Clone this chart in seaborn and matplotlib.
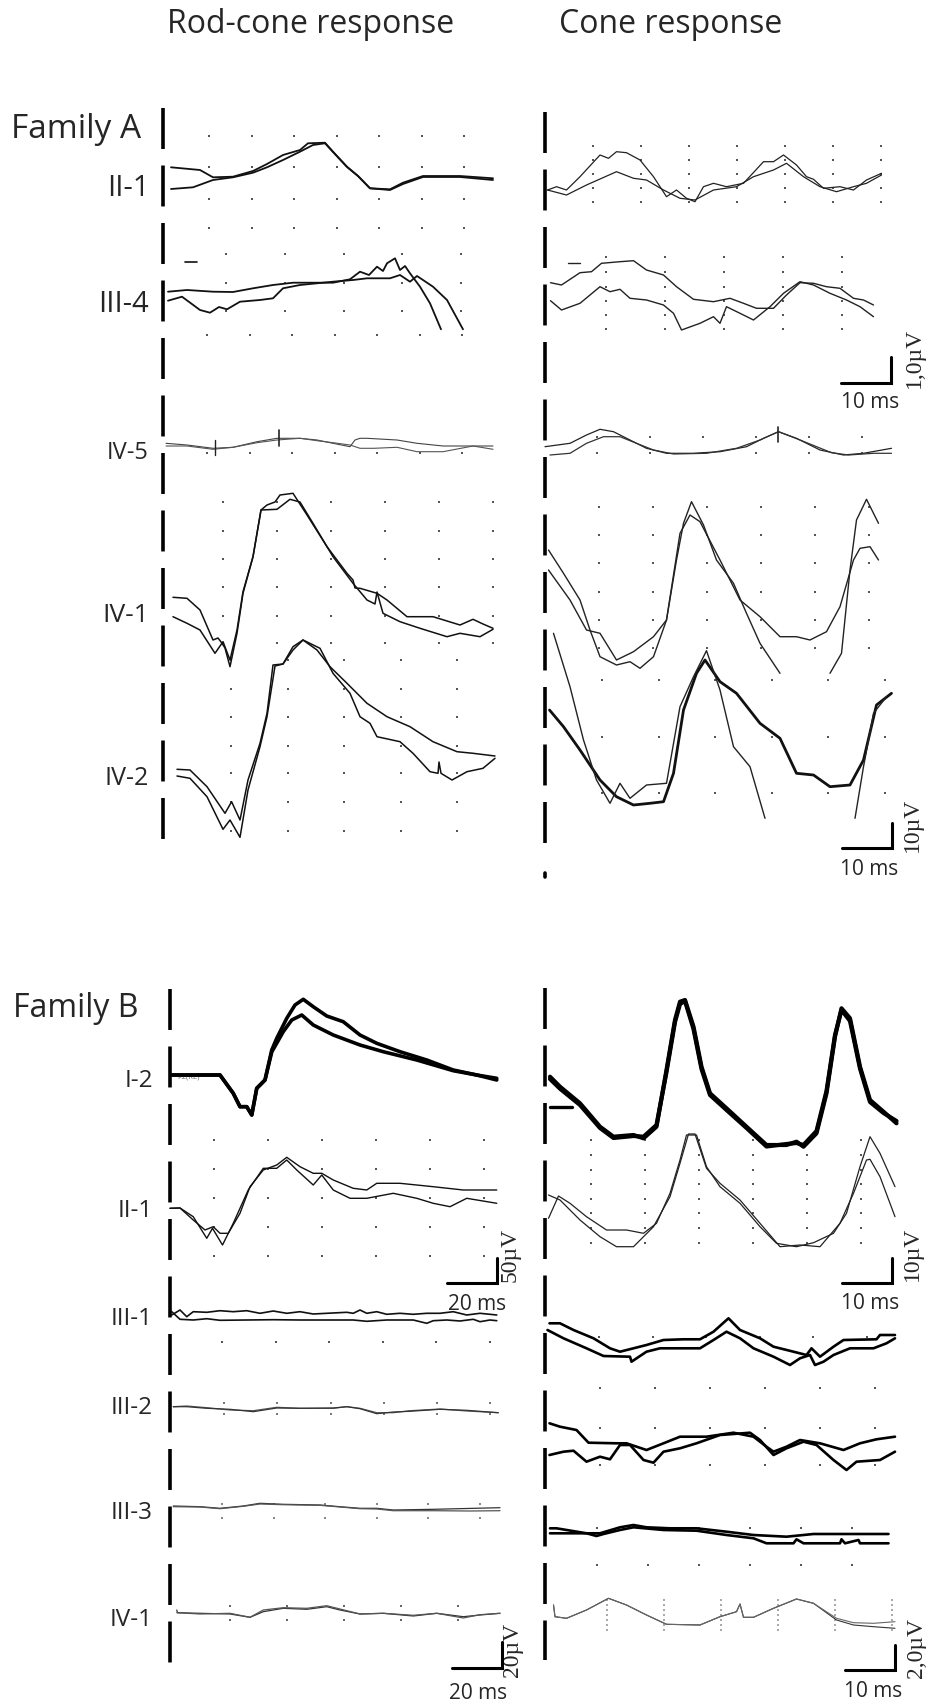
import numpy as np
import matplotlib
matplotlib.use("Agg")
import matplotlib.pyplot as plt
import seaborn as sns

sns.set_theme(style="white")
plt.rcParams['font.family'] = ['Open Sans', 'DejaVu Sans']
plt.rcParams['lines.scale_dashes'] = False

# ---------------- data: (time ms, amplitude units above row baseline) ----------------
# Family A, rod-cone response
ar_II1_a = [(4, 17.7), (18.5, 15), (25, 7.7), (35, 8.3), (45, 14), (52, 21), (60, 30), (68.5, 35), (72.5, 41.7),
            (81, 42.3), (85, 33.3), (92, 18.3), (97.5, 9), (103.5, -3.3), (113.5, -4.3), (120, 2.3), (130, 9),
            (148.5, 9), (165, 6.7)]
ar_II1_b = [(4, -4), (15, -2.3), (25, 5), (35, 7.7), (45, 12.3), (52, 17.7), (60, 25), (68.5, 33.3), (75, 40),
            (81, 41.7), (85, 33), (92, 18), (97.5, 9), (103.5, -3.3), (113.5, -5), (120, 1), (130, 8), (148.5, 8),
            (165, 5)]
ar_III4_a = [(2.5, 10.3), (12, 12), (25, 10.3), (35, 10), (45, 13.7), (55, 17), (65, 19.3), (77, 19.3), (85, 19.3),
             (93.5, 22.7), (98.5, 30.3), (103, 27), (107, 35.3), (110, 31), (112, 38.7), (116, 43.7), (118.5, 32),
             (121, 36), (123.5, 28.7), (128.5, 15.3), (133.5, -1.3), (139, -27.3)]
ar_III4_b = [(2.5, 1.3), (9.5, 5.3), (18.5, -8), (23.5, -10.7), (28, -5), (32, -7.3), (38.5, 0.3), (48.5, 2),
             (55, 3.7), (60, 13.7), (68.5, 17), (85, 20.3), (95, 22), (102, 23.7), (113.5, 23.7), (118.5, 27),
             (123.5, 20.3), (127, 26), (130, 22), (135, 15.3), (142, 2), (150, -27.3)]
ar_IV5_a = [(1.5, 6.7), (12, 5), (25, 1.7), (35, 2.7), (47, 8.3), (57, 11.7), (68.5, 11.7), (77, 10), (85, 6.7),
            (93.5, 3.3), (96, 10), (98.5, 11.7), (102, 11.7), (117, 10), (127, 6.7), (140, 4), (165, 4)]
ar_IV5_b = [(1.5, 4), (12, 4), (25, 0.7), (35, 2.7), (47, 7.3), (57, 10), (68.5, 11.7), (77, 9.3), (85, 7.3),
            (93.5, 5), (98.5, 1.7), (105.5, 1.7), (117, 2.7), (127, -1.7), (140, -1.7), (155, 4), (165, 0.7)]
ar_IV1_a = [(5, 14.7), (12, 13.7), (18.5, 2), (25, -28), (27.5, -26), (29.3, -30.7), (31, -36), (33.5, -54.7),
            (37, -21.3), (40, 18.7), (45, 55.3), (49, 102), (52, 107), (56, 110), (58.5, 117), (65, 118.7), (72, 97),
            (82, 65.3), (92, 38.7), (95, 32), (96, 24), (98.5, 23.7), (107, 18.7), (112, 12), (122, -4.7),
            (135, -4.7), (148.5, -13), (155, -7.3), (160, -12), (165, -16.3)]
ar_IV1_b = [(5, -4.7), (12, -11.3), (18.5, -18), (26, -41.3), (30, -29.7), (33.5, -48), (37, -18), (40, 20.3),
            (45, 55.3), (49, 102), (57, 102.7), (63.5, 112.7), (68.5, 110), (75, 88.7), (85, 55.3), (95, 28.7),
            (102, 12), (106, 8), (107, 20), (110, -1.3), (118.5, -9.7), (128.5, -16.3), (142, -24.7),
            (148.5, -21.3), (158.5, -24.7), (165, -17.3)]
ar_IV2_a = [(7, 6.7), (13.5, 6), (22, -10.7), (31, -37.3), (34.3, -25.7), (38.5, -44), (42.5, -4), (48.5, 32.7),
            (52, 62.7), (55, 111), (60, 112), (65, 129.3), (70, 136), (77, 126), (83.5, 109.3), (92, 92.7),
            (102, 72.7), (112, 59.3), (123.5, 49.3), (135, 34.3), (147, 24.3), (155, 22.7), (166, 20)]
ar_IV2_b = [(7, 0), (13.5, -2.3), (22, -20.7), (30, -53.3), (33.5, -44), (38.5, -61.3), (42.5, -14), (48.5, 29.3),
            (52, 59.3), (56, 110), (60, 112), (65, 126), (70, 136), (78.5, 127.7), (85, 102.7), (93.5, 82.7),
            (98.5, 59.3), (103.5, 52.7), (107, 39.3), (118.5, 34.3), (125, 22.7), (133.5, 4.3), (137.5, 2.7),
            (138, 14), (139, 2.7), (144.5, -4), (152, 4.3), (160, 7.7), (166, 17.7)]

# Family A, cone response
ac_II1_a = [(0.5, -5), (2.3, -1.7), (4.3, -5), (7, 8.3), (11, 30), (12.7, 26.7), (14.3, 33.3), (16.3, 32.3),
            (19, 25), (21.7, 8.3), (24.3, -11.7), (26.3, -5), (28.3, -13.3), (30, -16.7), (31.7, -1.7), (33.7, 1.7),
            (36.3, -1.7), (39.7, 1.7), (43.7, 23.3), (45.7, 23.3), (47.7, 30), (50.3, 20), (52.3, 8.3),
            (53.7, 5.7), (55.7, -3.3), (59, -1.7), (61.7, -5), (64.3, 5), (67.3, 11.7)]
ac_II1_b = [(0.5, -5), (4.3, -10), (8.3, 0), (14.3, 13.3), (17.7, 6.7), (20.3, 5), (23.7, -5), (27, -13.3),
            (30, -15), (33.7, -5), (38.3, -1.7), (41.7, 8.3), (45.7, 15), (48.3, 21.7), (51.7, 8.3), (55, -1.7),
            (58.3, -6.7), (61.7, -1.7), (64.3, 1.7), (67.3, 10)]
ac_III4_a = [(1.1, 19.3), (3.3, 17), (7, 29.3), (9.3, 30.3), (11.3, 38.7), (15, 40.3), (17.7, 41.3), (20.3, 32),
             (23.7, 27), (26.3, 15.3), (29.7, 2.7), (33.7, 0.3), (37, 3.7), (39.7, -1.3), (42.3, -6.3),
             (45.7, -6.3), (48.3, 7), (51, 19.3), (53.7, 18.7), (56.3, 15.3), (59, 13.7), (61.7, 3.7), (63.7, 2),
             (65.7, -3)]
ac_III4_b = [(1.1, 1.3), (3.3, -8), (7, -1.3), (11, 15.3), (13, 10.3), (15, 12.7), (17, 3.7), (20.3, 2),
             (23.7, -3), (25.7, -11.3), (27.3, -28), (31, -21.3), (33.7, -14.7), (35, -21.3), (36.3, -4.7),
             (39, -11.3), (41.7, -18), (45, -4.7), (47.7, 8.7), (51, 20.3), (53.7, 17), (57, 8.7), (60.3, 2),
             (63, -4.7), (65.7, -14.7)]
ac_IV5_a = [(0, 3.3), (5, 6.7), (8.3, 15), (11, 20.7), (13.7, 18.3), (17, 10), (20.3, 1.7), (24.3, -3.3),
            (29.7, -3.3), (35, -1.7), (40.3, 3.3), (43.7, 11.7), (46.7, 18.3), (50.3, 11.7), (55, 0), (59.7, -5),
            (63.7, -3.3), (69.3, 1.7)]
ac_IV5_b = [(1, -5), (5, -3.3), (8.3, 6.7), (11.7, 13.3), (15, 13.3), (18.3, 6.7), (21.7, 0), (25.7, -4),
            (32.3, -3.3), (38.3, 1.7), (43, 10), (46.7, 18.3), (51, 10), (57.3, -2.7), (60.7, -5), (65.7, -3.3),
            (69.3, -3.3)]
ac_IV1_a = [(0.7, 62), (3.7, 38.7), (7, 12), (9, -18), (11, -44.7), (14.3, -53), (17, -49.7), (19, -56.3),
            (21.7, -44.7), (24.3, -8), (26.3, 52), (27.7, 88.7), (29.3, 110.3), (31.7, 87), (34.3, 52),
            (37.7, 28.7), (40.3, -1.3), (43, -31.3), (47, -61.3), (52, np.nan), (57, -61.3), (59.3, -41.3),
            (61, 42), (62.3, 92), (64.3, 112.7), (66.7, 88.7)]
ac_IV1_b = [(0.7, 42), (5, 12), (8.3, -18), (11, -21.3), (14.3, -48), (17.7, -39.7), (21.7, -24.7), (24.3, -8),
            (27, 78.7), (29, 97), (31, 90.3), (35, 52), (39, 12), (43, -4.7), (47, -24.7), (50.3, -24.7),
            (53, -28), (56.3, -19.7), (59, 5.3), (61.7, 52), (63, 63.7), (65, 65.3), (66.7, 52)]
ac_IV2_a = [(0.9, 66), (3.7, 49.3), (7, 26), (11, -4), (14.3, -20.7), (17.7, -29), (21, -27.3), (23.7, -25.7),
            (25.7, 2.7), (27.7, 66), (30.3, 102.7), (32, 116), (35, 94.3), (38.3, 82.7), (43, 52.7), (47, 37.7),
            (50.3, 2.7), (53.7, 1), (57, -10.7), (61, -9), (63.7, 16), (66.3, 71), (69.3, 82.7)]
ac_IV2_b = [(1.7, 142.7), (5, 89.3), (7.7, 36), (10.3, -4), (13, -27.3), (15, -7.3), (17, -22.3), (20.3, -9),
            (24.3, -7.3), (27, 69.3), (29.7, 99.3), (32.3, 125.3), (35, 86), (37.7, 29.3), (41, 9.3),
            (44, -42.3), (53, np.nan), (62, -42.3), (63.7, 9.3), (65.7, 62.7), (68.3, 79.3)]

# Family B, rod-cone response
br_I2_a = [(0.7, 3), (12, 3), (20, 3), (25.3, -15.3), (28, -28.7), (30.7, -28.7), (32.7, -37), (34.7, -10.3),
           (38, -2), (40.7, 28), (42.7, 39.7), (46.7, 59.7), (50, 73), (53.3, 78.7), (57.3, 71.3), (62.7, 62),
           (69.3, 56.3), (76, 43), (82.7, 34.7), (92, 26.3), (102.7, 18), (113.3, 8), (122.7, 3), (130.7, -0.3)]
br_I2_b = [(0.7, 3), (12, 3), (20, 3), (25.3, -15.3), (28, -28.7), (30.7, -28.7), (32.7, -37), (34.7, -10.3),
           (38, -2), (40.7, 26), (45.3, 46.3), (48.7, 58), (52.7, 63), (57.3, 53), (65.3, 43), (76, 33),
           (85.3, 26.3), (98.7, 18), (113.3, 7.3), (122.7, 3), (130.7, -2)]
br_II1_a = [(0, -0.3), (4, 0), (9.3, -12), (14, -22), (17.3, -18.7), (20, -25.3), (23.3, -25.3), (28, -5.3),
            (32, 21.3), (37.3, 38), (42.7, 43), (46.7, 50.7), (52, 41.3), (57.3, 34.7), (60.7, 34.7), (65.3, 28),
            (73.3, 19.7), (78.7, 18), (82.7, 24.7), (92, 24.7), (105.3, 21.3), (117.3, 18), (130.7, 18)]
br_II1_b = [(0, -0.3), (4, 0), (9.3, -8.7), (14.7, -30.3), (17, -20.3), (21, -37), (25.3, -15.3), (31.3, 18),
            (37.3, 39.7), (42.7, 39.7), (46.7, 48), (50.7, 38), (57.3, 23), (60.7, 33), (65.3, 18), (72, 9.7),
            (78.7, 9.7), (89.3, 14.7), (98.7, 9.7), (105.3, 4.7), (112, 1.3), (118.7, 9.7), (130.7, 4.7)]
br_III1_a = [(0.7, 1), (4, 6), (6.7, -0.7), (9.3, 4.3), (14.7, 3.7), (20, 5.3), (25.3, 4.3), (30.7, 5.3), (36, 2.7),
             (41.3, 5), (46.7, 2.7), (52, 4.3), (57.3, 2), (62.7, 2.7), (70.7, 3.7), (73.3, 2.7), (76, 6),
             (78.7, 2.7), (82.7, 4.3), (86.7, 1.7), (92, 2.7), (97.3, 1.7), (102.7, 2.7), (108, 2.7), (113.3, 4.3),
             (118.7, 1), (124, 2.7), (130.7, 1)]
br_III1_b = [(0.7, 4.3), (4, -3.3), (9.3, -4), (14.7, -2.7), (20, -4.3), (30.7, -4), (41.3, -3.7), (52, -4),
             (62.7, -4), (73.3, -4), (78.7, -5.3), (86.7, -4), (97.3, -4), (102.7, -7.3), (105.3, -4.7),
             (110.7, -4), (116, -5), (121.3, -3.3), (124, -5.7), (128, -4), (130.7, -4.7)]
br_III2_a = [(1.3, -1.7), (6.7, -1), (14.7, -2.7), (24, -5), (33.3, -5.7), (42.7, -2.3), (52, -3.3), (65.3, -3.3),
             (70.7, -1.7), (76, -3.3), (82.7, -7.7), (89.3, -7.7), (96, -5.7), (108, -4), (118.7, -6), (131.3, -7.7)]
br_III2_b = [(1.3, -1.7), (6.7, -1.7), (14.7, -3.3), (24, -4.3), (33.3, -6.7), (42.7, -3), (52, -3.3), (65.3, -3),
             (70.7, -1.7), (76, -3.7), (82.7, -8.7), (89.3, -7), (96, -6.3), (108, -4.3), (118.7, -5.3),
             (131.3, -7.7)]
br_III3_a = [(1.3, 4), (12, 3.3), (20, 1.7), (29.3, 4), (36, 6.7), (45.3, 5.7), (60, 5), (68, 3.3), (76, 1.7),
             (82.7, 1.7), (89.3, 0), (105.3, 0.7), (132, 2.3)]
br_III3_b = [(1.3, 3.3), (12, 3), (20, 1.3), (29.3, 3.7), (36, 6), (45.3, 5.3), (60, 4.7), (68, 3), (76, 1.3),
             (82.7, 1), (89.3, -0.7), (105.3, -0.7), (120, -1), (132, -0.7)]
br_IV1_a = [(2.7, 7), (3, 4.3), (12, 3.7), (24, 3), (32, -0.3), (37.3, 5.3), (45.3, 8.7), (54.7, 7.7),
            (62.7, 10.3), (68, 7), (76, 3), (85.3, 3.7), (97.3, 1), (106.7, 3.7), (117.3, 0.3), (124, 2), (132, 3.7)]
br_IV1_b = [(2.7, 4.3), (12, 3), (24, 3.7), (32, -0.3), (37.3, 7), (45.3, 9.3), (54.7, 8.7), (62.7, 11.3), (68, 8),
            (76, 3), (85.3, 3.7), (97.3, 1.7), (106.7, 3.7), (117.3, -1), (124, 2.3), (132, 3.7)]

# Family B, cone response
bc_I2_a = [(1, 1.3), (3, -8.7), (7, -25.3), (11, -48.7), (13.7, -58.7), (17.7, -57), (19.7, -60.3), (22.3, -48.7),
           (24.3, 8), (26, 58), (27, 76.3), (28, 78), (29.7, 51.3), (31.3, 11.3), (33, -15.3), (36.3, -30.3),
           (40.3, -48.7), (44.3, -67), (48.3, -67), (50.3, -63.7), (51.7, -68.7), (54.3, -55.3), (56.3, -15.3),
           (58, 41.3), (59.3, 69.7), (61, 59.7), (63, 11.3), (65, -22), (67.7, -33.7), (70.3, -45.3)]
bc_I2_b = [(1, -1), (3, -10.7), (7, -27), (11, -50), (13.7, -60), (17.7, -58), (19.7, -58.7), (22.3, -47),
           (24.3, 6), (26, 56), (27, 74), (28, 77), (29.7, 49), (31.3, 9), (33, -17), (36.3, -32), (40.3, -50),
           (44.3, -68.5), (48.3, -66), (50.3, -65), (51.7, -67), (54.3, -53), (56.3, -13), (58, 43), (59.3, 68),
           (61, 57), (63, 9.5), (65, -24), (67.7, -35), (70.3, -43)]
bc_II1_a = [(0.7, -10.3), (2.7, 12), (5, 4.7), (8.3, -8.7), (12.3, -22), (16.3, -22), (19.7, -25.3), (22.3, -15.3),
            (25, 14.7), (27, 48), (28.3, 73), (30.3, 73), (32.3, 41.3), (35, 21.3), (39, 4.7), (43, -18.7),
            (46.3, -35.3), (50.3, -38.7), (53.7, -34.7), (57.7, -25.3), (60.3, -5.3), (63, 41.3), (65, 71.3),
            (67, 54.7), (70, 21.3)]
bc_II1_b = [(0.7, 13), (3, 8), (7, -12), (11, -28.7), (14.3, -38.7), (17.7, -38.7), (21.7, -18.7), (25, 11.3),
            (27, 44.7), (28.7, 74), (30, 74), (32.3, 39.7), (35, 24.7), (39, 8), (43, -15.3), (47, -38.7),
            (51, -37), (55, -38.7), (59, -15.3), (61.7, 14.7), (64.3, 48), (65, 48.7), (67, 31.3), (70, -8.7)]
bc_III1_a = [(0.9, -7.3), (3, -7.3), (5.7, -14), (9.7, -22.3), (13, -32.3), (15, -35.7), (17.7, -32.3), (20.3, -29),
             (23.7, -24), (27.7, -23.3), (31, -23.3), (33.7, -15.7), (36.7, -2.3), (39, -14), (43, -22.3),
             (45.7, -30.7), (49.7, -35.7), (52.3, -39), (53.3, -32.3), (55, -40.7), (57.7, -30.7), (59.7, -24),
             (66.3, -23.3), (67, -19), (70, -19)]
bc_III1_b = [(0.5, -14), (3.7, -22.3), (8.3, -32.3), (11.7, -40), (17, -40.7), (17.3, -45.7), (20.3, -35.7),
             (23, -32.3), (27, -32.3), (31, -32.3), (33.7, -24), (36.3, -15.7), (39, -22.3), (41.7, -32.3),
             (45.7, -40.7), (49, -49), (51, -42.3), (53, -39), (54, -49), (55.7, -45.7), (57.7, -39), (61, -32.3),
             (65.7, -32.3), (68.3, -27.3), (70, -22.3)]
bc_III2_a = [(0.9, -18.3), (3, -21.7), (6.3, -25), (8.7, -37.7), (14.3, -38.3), (16.3, -38.3), (20.3, -45),
             (23.7, -38.3), (27, -31.7), (32.3, -31.7), (37.7, -27.7), (41.7, -31.7), (44.3, -41.7), (45.7, -46.7),
             (48.3, -41.7), (51, -35), (55, -38.3), (59.7, -45), (63, -38.3), (66.3, -34.3), (70, -31.7)]
bc_III2_b = [(0.9, -50), (3.7, -46.7), (5.7, -45.7), (8.3, -56.7), (11, -51.7), (13, -54.3), (15, -40), (17, -40),
             (19.7, -55), (21.7, -57.7), (23.7, -46.7), (27, -43.3), (30.3, -38.3), (35, -30), (37.7, -29),
             (41, -27.7), (43, -35), (45.7, -50), (48.3, -43.3), (51.7, -36.7), (54.3, -40), (57.7, -55),
             (60.3, -65), (62.3, -56.7), (67, -55), (70, -46.7)]
bc_III3_a = [(1, -18.3), (2.3, -18.3), (8.3, -23.3), (11, -23.3), (15, -17.3), (17.7, -15), (20.3, -17.3),
             (25, -18.3), (30.3, -18.3), (36.3, -21.7), (41.7, -25), (48.3, -26.7), (53.7, -24), (61.7, -24),
             (68.7, -24)]
bc_III3_b = [(1, -23.3), (8.3, -23.3), (10.3, -26), (11.7, -24), (15, -20), (17.7, -17.3), (23.7, -20),
             (30.3, -20.7), (36.3, -25), (41.7, -28.3), (44.3, -33.3), (49.7, -33.3), (50.3, -29.3), (51.7, -33.3),
             (59, -33.3), (59.3, -29.3), (60, -33.3), (62.7, -30), (63, -33.3), (68.7, -33.3)]
bc_IV1_a = [(1.7, 12), (2, 0.3), (4.3, -1.3), (8.3, 7), (12.7, 18.7), (16.3, 12), (20.3, 2), (24.3, -7.3), (31, -8),
            (35, 0.3), (38.3, 5.3), (39, 13), (39.7, -0.3), (41.7, -0.3), (45.7, 8.7), (50.3, 18), (53.7, 13.7),
            (58.3, -3), (61.7, -8), (65.7, -9.7), (70, -11.3)]
bc_IV1_b = [(1.7, 12), (2, 0.3), (4.3, -1.3), (8.3, 7), (12.7, 18.7), (16.3, 12), (20.3, 2), (24.3, -7.3), (31, -8),
            (35, 0.3), (38.3, 5.3), (39, 13), (39.7, -0.3), (41.7, -0.3), (45.7, 8.7), (50.3, 18), (53.7, 13.7),
            (58.3, -1.3), (61.7, -5.7), (65.7, -6.3), (70, -4.7)]

A_LABELS = ["II-1", "III-4", "IV-5", "IV-1", "IV-2"]
B_LABELS = ["I-2", "II-1", "III-1", "III-2", "III-3", "IV-1"]

# ---------------- layout ----------------
W, H = 926, 1701
A_BASE = [185, 302, 450, 612, 776]
B_BASE = [1078, 1208, 1316, 1405, 1510, 1617]
A_LABEL_PT = [21, 21, 17, 19, 18]

# (traces, linewidths, colors, dot grid: t0, dt, n, amplitude rows, dot colour)
A_ROD = [
    ([ar_II1_a, ar_II1_b], [1.3, 1.3], ["#111", "#111"], (23, 21.25, 7, [49, 18, -14, -43], "#555")),
    ([ar_III4_a, ar_III4_b], [1.3, 1.3], ["#111", "#111"], (31.5, 29.4, 5, [48, 19, -9], "#555")),
    ([ar_IV5_a, ar_IV5_b], [0.8, 0.8], ["#444", "#555"], (22, 21.25, 7, [115, -3], "#555")),
    ([ar_IV1_a, ar_IV1_b], [1.1, 1.1], ["#111", "#111"], (30, 27, 6, [110, 81, 53, 25, -4, -31], "#555")),
    ([ar_IV2_a, ar_IV2_b], [1.1, 1.1], ["#111", "#111"], (34, 28.25, 5, [116, 87, 59, 30, 3, -26, -55], "#555")),
]
A_CONE = [
    ([ac_II1_a, ac_II1_b], [0.9, 0.9], ["#222", "#222"], (9.6, 9.6, 7, [39, 25, 11, -3, -17], "#555")),
    ([ac_III4_a, ac_III4_b], [1.0, 1.0], ["#222", "#222"], (12.2, 11.8, 5, [45, 30, 15, 1, -13, -27], "#555")),
    ([ac_IV5_a, ac_IV5_b], [0.9, 0.9], ["#222", "#333"], (10.4, 10.6, 6, [13, -3], "#555")),
    ([ac_IV1_a, ac_IV1_b], [1.0, 1.0], ["#222", "#222"], (10.8, 10.8, 6, [105, 77, 49, 20, -8, -36], "#555")),
    ([ac_IV2_a, ac_IV2_b], [2.0, 1.0], ["#111", "#222"], (11.4, 11.3, 6, [96, 39, -17], "#555")),
]
B_ROD = [
    ([br_I2_a, br_I2_b], [2.6, 2.6], ["#000", "#000"], None),
    ([br_II1_a, br_II1_b], [1.0, 1.0], ["#111", "#111"], (17.6, 21.6, 6, [68, 39, 10, -19, -48], "#555")),
    ([br_III1_a, br_III1_b], [1.2, 1.2], ["#111", "#111"], (20.8, 21.4, 6, [-26], "#555")),
    ([br_III2_a, br_III2_b], [0.9, 0.9], ["#555", "#333"], (21.6, 21.3, 6, [2, -9], "#777")),
    ([br_III3_a, br_III3_b], [0.9, 0.9], ["#333", "#555"], (20.8, 20.6, 6, [6, -8], "#888")),
    ([br_IV1_a, br_IV1_b], [0.9, 0.9], ["#333", "#555"], (24, 22.8, 5, [11, -3], "#666")),
]
B_CONE = [
    ([bc_I2_a, bc_I2_b], [3.0, 3.0], ["#000", "#000"], None),
    ([bc_II1_a, bc_II1_b], [0.9, 0.9], ["#222", "#222"], (9.2, 10.8, 6, [68, 53, 38, 24, 9, -5, -20, -35], "#555")),
    ([bc_III1_a, bc_III1_b], [1.9, 1.9], ["#000", "#000"], (10.8, 10.7, 6, [-21], "#555")),
    ([bc_III2_a, bc_III2_b], [1.9, 1.9], ["#000", "#000"], (11, 11, 6, [17, -23, -60], "#555")),
    ([bc_III3_a, bc_III3_b], [1.9, 1.9], ["#000", "#000"], (10.4, 10.2, 6, [-18, -55], "#555")),
    ([bc_IV1_a, bc_IV1_b], [0.8, 0.8], ["#333", "#666"], (12.4, 11.4, 6, [17, 12, 7, 2, -3, -8, -13], "#aaa")),
]

fig = plt.figure(figsize=(W / 100, H / 100), dpi=100)
canvas = fig.add_axes([0, 0, 1, 1])
canvas.set_xlim(0, W)
canvas.set_ylim(H, 0)
canvas.axis("off")


def block(x0, ppm):
    ax = fig.add_axes([0, 0, 1, 1])
    ax.patch.set_visible(False)
    return ax, (-x0 / ppm, (W - x0) / ppm)


def draw_rows(ax, rows, bases):
    for (traces, lws, cols, grid), base in zip(rows, bases):
        if grid is not None:
            t0, dt, n, amps, dc = grid
            tt, vv = np.meshgrid(t0 + dt * np.arange(n), np.array(amps, float) - base)
            sns.scatterplot(x=tt.ravel(), y=vv.ravel(), ax=ax, s=1.5, marker="s", color=dc,
                            linewidth=0, legend=False)
        for tr, lw, c in zip(traces, lws, cols):
            a = np.array(tr, dtype=float)
            # split at gaps in the recording
            cuts = np.where(np.isnan(a[:, 1]))[0]
            for seg in np.split(a, cuts):
                seg = seg[~np.isnan(seg[:, 1])]
                if len(seg) > 1:
                    sns.lineplot(x=seg[:, 0], y=seg[:, 1] - base, ax=ax, color=c, linewidth=lw,
                                 sort=False, estimator=None, legend=False)


def stim_line(ax, y_top, y_bot):
    ax.plot([0, 0], [-y_top, -y_bot], color="black", lw=2.6, dashes=(29.5, 11.9), solid_capstyle="butt")


def scale_bar(ax, t_start, dur, y, amp):
    ax.plot([t_start, t_start + dur, t_start + dur], [-y, -y, -y + amp], color="black", lw=2.2,
            solid_joinstyle="miter")


blocks = []
ax_ar, lim = block(163, 2.0); blocks.append((ax_ar, lim))
draw_rows(ax_ar, A_ROD, A_BASE)
stim_line(ax_ar, 108, 842)

ax_ac, lim = block(545, 5.0); blocks.append((ax_ac, lim))
draw_rows(ax_ac, A_CONE, A_BASE)
stim_line(ax_ac, 112, 843)
ax_ac.plot([0, 0], [-873, -877], color="black", lw=2.6)
scale_bar(ax_ac, 59.2, 10, 383, 26)
scale_bar(ax_ac, 59.4, 10, 848, 25)

ax_br, lim = block(170, 2.5); blocks.append((ax_br, lim))
draw_rows(ax_br, B_ROD, B_BASE)
stim_line(ax_br, 989, 1665)
scale_bar(ax_br, 110.8, 20, 1283, 25)
scale_bar(ax_br, 112.8, 20, 1668, 26)

ax_bc, lim = block(545, 5.0); blocks.append((ax_bc, lim))
draw_rows(ax_bc, B_CONE, B_BASE)
stim_line(ax_bc, 988, 1660)
scale_bar(ax_bc, 59.4, 10, 1283, 25)
scale_bar(ax_bc, 60.0, 10, 1670, 25)

# small stimulus marks on some recordings
ax_ar.plot([11, 17], [-262, -262], color="#111", lw=1.2)
ax_ac.plot([4.6, 7], [-263, -263], color="#222", lw=1.0)
ax_bc.plot([1, 5.4], [-1107, -1107], color="#000", lw=2.4)
ax_ar.plot([26, 26], [-440, -455], color="#222", lw=1.0)
ax_ar.plot([58, 58], [-430, -446], color="#222", lw=1.2)
ax_ac.plot([46.6, 46.6], [-427, -442], color="#222", lw=1.2)

for ax, xl in blocks:
    ax.set_xlim(*xl)
    ax.set_ylim(-H, 0)
    ax.axis("off")

# ---------------- text ----------------
canvas.text(311, 33, "Rod-cone response", fontsize=23, ha="center", va="baseline")
canvas.text(671, 33, "Cone response", fontsize=23, ha="center", va="baseline")
canvas.text(11, 138, "Family A", fontsize=24, ha="left", va="baseline")
canvas.text(13, 1017, "Family B", fontsize=23, ha="left", va="baseline")

for lab, base, pt in zip(A_LABELS, A_BASE, A_LABEL_PT):
    canvas.text(149, base + pt * 0.5, lab, fontsize=pt, ha="right", va="baseline")
for lab, base in zip(B_LABELS, B_BASE):
    canvas.text(153, base + 9, lab, fontsize=17.5, ha="right", va="baseline")

canvas.text(177, 1077, "I-2(RE)", fontsize=5.5, color="#666", ha="left", va="center")

for x, y, s in [(870, 408, "10 ms"), (869, 875, "10 ms"), (477, 1310, "20 ms"), (478, 1699, "20 ms"),
                (870, 1309, "10 ms"), (873, 1697, "10 ms")]:
    canvas.text(x, y, s, fontsize=15, ha="center", va="baseline")

serif = ["Liberation Serif", "DejaVu Serif"]
for x, y, s in [(914, 358, "1,0\u00b5V"), (912, 825, "10\u00b5V"), (510, 1255, "50\u00b5V"),
                (513, 1650, "20\u00b5V"), (912, 1254, "10\u00b5V"), (917, 1648, "2,0\u00b5V")]:
    canvas.text(x, y, s, fontsize=17, family=serif, rotation=90, ha="center", va="center")

fig.savefig("out.png", dpi=100)
